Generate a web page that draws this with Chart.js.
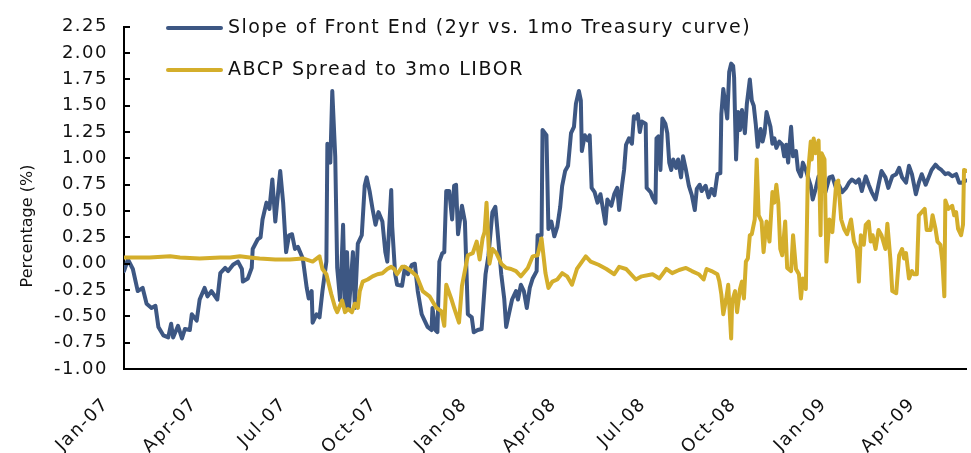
<!DOCTYPE html>
<html>
<head>
<meta charset="utf-8">
<script src="https://cdn.jsdelivr.net/npm/chart.js@4.4.1/dist/chart.umd.min.js"></script>
<style>
    html, body { margin: 0; padding: 0; background: #fff; }
    #wrap { width: 971px; height: 453px; }
</style>
</head>
<body>
<div id="wrap"><canvas id="chart" width="971" height="453"></canvas></div>
<script>
// x values are days since 1 Jan 2007
const xTickDays = [0, 90, 181, 273, 365, 456, 547, 639, 731, 821];
const xTickLabels = ['Jan-07', 'Apr-07', 'Jul-07', 'Oct-07', 'Jan-08', 'Apr-08', 'Jul-08', 'Oct-08', 'Jan-09', 'Apr-09'];

const seriesLabels = ['Slope of Front End (2yr vs. 1mo Treasury curve)', 'ABCP Spread to 3mo LIBOR'];

// [day, %]
const slopeSeries = [
    [0,-0.07],[4,0.04],[9,-0.05],[14,-0.26],[19,-0.23],[23,-0.38],[28,-0.42],[32,-0.40],[35,-0.60],[40,-0.68],
    [45,-0.70],[48,-0.57],[50,-0.70],[55,-0.59],[59,-0.71],[62,-0.62],[67,-0.63],[69,-0.48],[74,-0.54],[77,-0.34],
    [82,-0.23],[85,-0.31],[89,-0.26],[95,-0.34],[98,-0.09],[103,-0.04],[106,-0.07],[111,-0.01],[116,0.02],[120,-0.05],
    [121,-0.17],[126,-0.14],[130,-0.04],[131,0.14],[136,0.23],[139,0.25],[141,0.42],[145,0.58],[148,0.52],[151,0.80],
    [154,0.40],[159,0.88],[162,0.58],[165,0.11],[168,0.27],[171,0.28],[174,0.14],[177,0.16],[182,0.05],[186,-0.23],
    [188,-0.33],[191,-0.26],[192,-0.56],[196,-0.48],[199,-0.51],[202,-0.26],[206,0.02],[207,1.14],[210,0.96],[212,1.64],
    [215,1.02],[217,-0.04],[220,-0.35],[223,0.37],[225,-0.45],[227,0.11],[229,-0.42],[233,0.11],[235,-0.42],[238,0.19],
    [242,0.27],[245,0.74],[247,0.82],[250,0.69],[253,0.52],[256,0.37],[259,0.49],[263,0.40],[266,0.11],[268,0.02],
    [272,0.70],[273,0.35],[276,-0.10],[278,-0.20],[283,-0.21],[286,-0.03],[289,-0.10],[293,-0.01],[296,0.00],[299,-0.26],
    [303,-0.48],[306,-0.54],[309,-0.60],[313,-0.63],[314,-0.42],[317,-0.63],[319,-0.65],[321,0.02],[324,0.10],[326,0.11],
    [328,0.69],[331,0.69],[334,0.42],[336,0.74],[338,0.75],[340,0.28],[344,0.55],[347,0.40],[350,-0.48],[354,-0.51],
    [356,-0.65],[360,-0.63],[364,-0.62],[368,-0.10],[371,0.08],[375,0.49],[378,0.54],[380,0.33],[384,-0.10],[387,-0.33],
    [389,-0.60],[392,-0.47],[395,-0.34],[399,-0.26],[401,-0.34],[404,-0.20],[407,-0.26],[410,-0.42],[413,-0.23],[416,-0.14],
    [420,-0.07],[421,0.27],[425,0.27],[426,1.27],[430,1.22],[432,0.33],[435,0.40],[438,0.26],[441,0.35],[444,0.54],
    [446,0.74],[449,0.88],[452,0.93],[455,1.24],[458,1.30],[460,1.52],[463,1.64],[465,1.55],[466,1.07],[469,1.22],
    [472,1.17],[474,1.22],[476,0.72],[479,0.68],[482,0.58],[485,0.66],[487,0.55],[490,0.38],[492,0.61],[496,0.55],
    [499,0.66],[502,0.72],[504,0.51],[507,0.75],[509,0.89],[511,1.13],[514,1.19],[517,1.14],[519,1.40],[521,1.38],
    [523,1.42],[525,1.25],[527,1.35],[531,1.33],[532,0.72],[536,0.68],[538,0.63],[541,0.58],[542,1.19],[544,1.21],
    [546,0.89],[548,1.38],[551,1.33],[553,1.24],[555,0.96],[557,0.89],[559,0.99],[562,0.91],[564,0.99],[567,0.82],
    [569,1.02],[572,0.89],[575,0.74],[578,0.65],[581,0.51],[583,0.71],[586,0.75],[588,0.69],[592,0.74],[595,0.63],
    [598,0.71],[601,0.65],[604,0.85],[607,0.86],[608,1.42],[610,1.66],[612,1.52],[614,1.38],[616,1.82],[618,1.90],
    [620,1.88],[621,1.77],[623,0.99],[625,1.44],[627,1.27],[629,1.46],[632,1.24],[634,1.52],[637,1.75],[639,1.55],
    [641,1.50],[643,1.33],[645,1.11],[648,1.28],[650,1.16],[652,1.24],[654,1.44],[658,1.30],[660,1.14],[662,1.19],
    [664,1.10],[667,1.16],[670,1.13],[672,1.02],[674,1.13],[676,0.96],[679,1.30],[681,1.02],[684,1.07],[686,0.89],
    [689,0.83],[691,0.96],[694,0.89],[696,0.83],[699,0.74],[701,0.61],[704,0.71],[707,0.83],[710,0.74],[714,0.68],
    [718,0.82],[721,0.83],[725,0.71],[728,0.74],[731,0.68],[735,0.72],[738,0.77],[741,0.80],[745,0.77],[748,0.80],
    [751,0.69],[755,0.83],[758,0.75],[761,0.68],[765,0.61],[768,0.75],[771,0.88],[775,0.82],[778,0.72],[782,0.83],
    [786,0.85],[789,0.91],[792,0.82],[796,0.77],[799,0.93],[802,0.85],[806,0.66],[809,0.77],[812,0.85],[816,0.75],
    [819,0.82],[822,0.89],[826,0.94],[829,0.91],[832,0.89],[836,0.85],[839,0.86],[843,0.83],[847,0.85],[850,0.77],
    [853,0.77],[857,0.79]
];

const abcpSeries = [
    [0,0.06],[26,0.06],[47,0.07],[57,0.06],[77,0.05],[98,0.06],[108,0.06],[118,0.07],[128,0.06],[138,0.05],
    [154,0.04],[169,0.04],[182,0.05],[192,0.02],[199,0.07],[202,-0.05],[206,-0.10],[211,-0.29],[215,-0.42],[217,-0.46],
    [222,-0.35],[225,-0.46],[228,-0.43],[232,-0.46],[235,-0.38],[238,-0.42],[240,-0.26],[243,-0.17],[248,-0.15],[253,-0.12],
    [258,-0.10],[263,-0.09],[268,-0.05],[272,-0.03],[275,-0.05],[278,-0.10],[283,-0.03],[286,-0.03],[291,-0.06],[298,-0.12],
    [304,-0.26],[311,-0.31],[318,-0.42],[323,-0.45],[326,-0.59],[328,-0.20],[333,-0.33],[336,-0.42],[341,-0.56],[344,-0.21],
    [350,0.08],[355,0.10],[359,0.21],[362,0.04],[365,0.24],[367,0.30],[369,0.58],[372,0.00],[375,0.14],[379,0.10],
    [384,0.00],[389,-0.04],[394,-0.05],[399,-0.07],[404,-0.12],[411,-0.04],[416,0.07],[421,0.08],[425,0.24],[429,-0.09],
    [432,-0.23],[436,-0.17],[441,-0.15],[446,-0.09],[451,-0.12],[456,-0.20],[461,-0.05],[470,0.07],[475,0.02],[483,-0.01],
    [491,-0.05],[499,-0.10],[504,-0.03],[511,-0.05],[521,-0.15],[527,-0.12],[538,-0.10],[545,-0.14],[552,-0.05],[558,-0.09],
    [565,-0.06],[572,-0.04],[578,-0.07],[585,-0.10],[590,-0.15],[593,-0.05],[598,-0.07],[604,-0.10],[606,-0.17],[608,-0.29],
    [610,-0.48],[613,-0.33],[615,-0.20],[618,-0.71],[619,-0.36],[622,-0.26],[624,-0.46],[627,-0.24],[629,-0.17],[631,-0.33],
    [633,0.02],[635,0.05],[637,0.27],[639,0.28],[642,0.42],[644,0.99],[646,0.46],[649,0.40],[651,0.11],[654,0.40],
    [657,0.21],[660,0.68],[662,0.58],[664,0.75],[666,0.58],[668,0.14],[670,0.08],[673,0.40],[675,-0.04],[679,-0.07],
    [681,0.27],[684,-0.05],[687,-0.10],[689,-0.33],[691,-0.14],[694,-0.24],[696,0.83],[699,1.16],[700,0.99],[702,1.19],
    [704,1.05],[707,1.17],[709,0.27],[710,1.05],[713,0.99],[715,0.02],[718,0.42],[721,0.30],[725,0.77],[727,0.79],
    [730,0.42],[733,0.33],[736,0.28],[740,0.42],[743,0.21],[746,0.14],[748,-0.17],[750,0.27],[753,0.18],[755,0.37],
    [758,0.40],[760,0.21],[762,0.27],[765,0.14],[768,0.32],[771,0.27],[775,0.14],[777,0.38],[780,0.05],[782,-0.26],
    [786,-0.28],[789,0.08],[792,0.14],[794,0.05],[796,0.10],[799,-0.14],[802,-0.07],[804,-0.10],[807,-0.10],[809,0.46],
    [812,0.49],[815,0.52],[817,0.32],[821,0.32],[823,0.46],[826,0.33],[828,0.21],[831,0.18],[833,0.02],[835,-0.31],
    [836,0.60],[839,0.52],[843,0.55],[845,0.46],[847,0.49],[849,0.33],[852,0.27],[854,0.37],[855,0.89],[858,0.88]
];

const BLUE = '#3d5783';
const GOLD = '#d4ae2b';
const FONT = 'DejaVu Sans';
const LETTER_SPACING = '1.5px';

function toPoints(series) {
    return series.map(p => ({ x: p[0], y: p[1] }));
}

// legend, axis title and inward ticks drawn by hand
const decorPlugin = {
    id: 'decor',
    beforeUpdate(chart) { chart.ctx.letterSpacing = LETTER_SPACING; },
    beforeDraw(chart) { chart.ctx.letterSpacing = LETTER_SPACING; },
    afterDraw(chart) {
        const ctx = chart.ctx;
        const area = chart.chartArea;
        const yScale = chart.scales.y;
        ctx.save();

        // inward tick marks on y axis
        ctx.strokeStyle = '#000';
        ctx.lineWidth = 2;
        yScale.ticks.forEach(t => {
            const py = Math.round(yScale.getPixelForValue(t.value));
            ctx.beginPath();
            ctx.moveTo(area.left, py);
            ctx.lineTo(area.left + 6, py);
            ctx.stroke();
        });

        // y axis title
        ctx.fillStyle = '#111';
        ctx.letterSpacing = '0px';
        ctx.font = '16px "' + FONT + '"';
        ctx.textAlign = 'center';
        ctx.textBaseline = 'middle';
        ctx.translate(28, 226);
        ctx.rotate(-Math.PI / 2);
        ctx.fillText('Percentage (%)', 0, 0);
        ctx.setTransform(1, 0, 0, 1, 0, 0);

        // legend
        ctx.letterSpacing = LETTER_SPACING;
        ctx.font = '19px "' + FONT + '"';
        ctx.textAlign = 'left';
        const rows = [28, 70];
        chart.data.datasets.forEach((ds, i) => {
            const y = rows[i];
            ctx.strokeStyle = ds.borderColor;
            ctx.lineWidth = 4;
            ctx.lineCap = 'round';
            ctx.beginPath();
            ctx.moveTo(168, y);
            ctx.lineTo(221, y);
            ctx.stroke();
            ctx.fillStyle = '#111';
            ctx.fillText(ds.label, 228, y);
        });
        ctx.restore();
    }
};

const ctx = document.getElementById('chart').getContext('2d');
const chart = new Chart(ctx, {
    type: 'line',
    data: {
        datasets: [{
            label: seriesLabels[0],
            data: toPoints(slopeSeries),
            borderColor: BLUE,
            borderWidth: 4,
            order: 2
        }, {
            label: seriesLabels[1],
            data: toPoints(abcpSeries),
            borderColor: GOLD,
            borderWidth: 4,
            order: 1
        }]
    },
    options: {
        responsive: false,
        animation: false,
        devicePixelRatio: 1,
        layout: { padding: { top: 22, right: 3, left: 0, bottom: 0 } },
        elements: {
            point: { radius: 0 },
            line: { tension: 0, borderJoinStyle: 'round', borderCapStyle: 'round' }
        },
        plugins: {
            legend: { display: false },
            tooltip: { enabled: false }
        },
        scales: {
            x: {
                type: 'linear',
                min: 0,
                max: 858,
                afterBuildTicks: scale => { scale.ticks = xTickDays.map(v => ({ value: v })); },
                afterFit: scale => { scale.height = 84; },
                grid: { display: false, drawTicks: false },
                border: { display: true, color: '#000', width: 2 },
                ticks: {
                    autoSkip: false,
                    minRotation: 45,
                    maxRotation: 45,
                    padding: 25,
                    labelOffset: -18,
                    color: '#111',
                    font: { family: FONT, size: 18 },
                    callback: (value, index) => xTickLabels[index]
                }
            },
            y: {
                min: -1,
                max: 2.25,
                afterFit: scale => { scale.width = 124; },
                grid: { display: false, drawTicks: false },
                border: { display: true, color: '#000', width: 2 },
                ticks: {
                    stepSize: 0.25,
                    padding: 16,
                    color: '#111',
                    font: { family: FONT, size: 18 },
                    callback: v => v.toFixed(2)
                }
            }
        }
    },
    plugins: [decorPlugin]
});
</script>
</body>
</html>
